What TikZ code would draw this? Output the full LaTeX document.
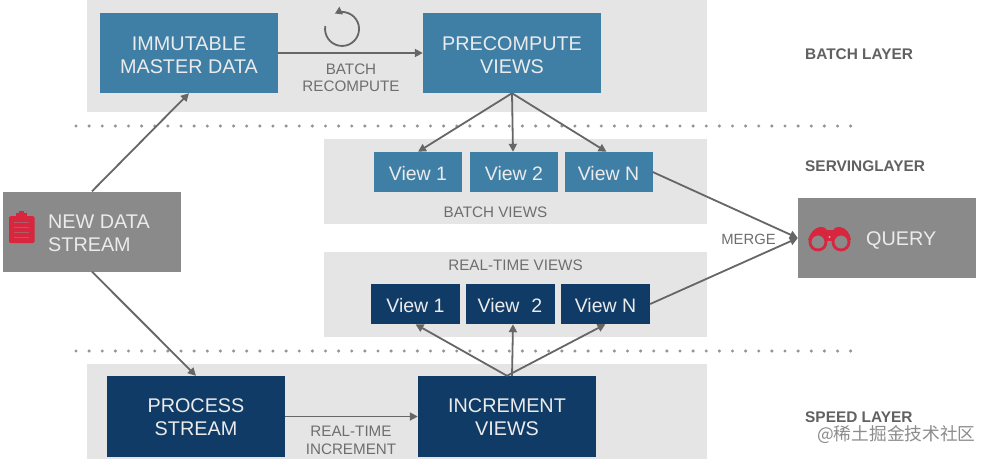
\documentclass[tikz,border=0pt]{standalone}
\usepackage{fontspec}
\setmainfont{Liberation Sans}
\newfontfamily\cjk{Noto Sans CJK SC}
\usetikzlibrary{arrows.meta}
\definecolor{panelc}{HTML}{E5E5E5}
\definecolor{tealc}{HTML}{3F7FA6}
\definecolor{navyc}{HTML}{0F3B66}
\definecolor{greyc}{HTML}{8A8A8A}
\definecolor{linec}{HTML}{666666}
\definecolor{labelc}{HTML}{6E6E6E}
\definecolor{iconred}{HTML}{D7263D}
\tikzset{
 x=1pt,y=-1pt,
 panel/.style={fill=panelc,draw=none},
 tealbox/.style={fill=tealc,minimum width=178pt,minimum height=80pt,inner sep=0pt},
 navybox/.style={fill=navyc,minimum width=178pt,minimum height=81pt,inner sep=0pt},
 greybox/.style={fill=greyc,minimum width=178pt,minimum height=80pt,inner sep=0pt},
 boxtext/.style={text=white!92!black,font=\fontsize{19.8}{23}\selectfont,align=center,inner sep=0pt},
 leftboxtext/.style={boxtext,align=left,anchor=west},
 tview/.style={fill=tealc,minimum width=88pt,minimum height=40pt,inner sep=0pt},
 nview/.style={fill=navyc,minimum width=89pt,minimum height=40pt,inner sep=0pt},
 viewtext/.style={text=white!92!black,font=\fontsize{19.5}{22}\selectfont,inner sep=0pt},
 conn/.style={draw=linec,line width=1.8pt,-{Triangle[length=8pt,width=8pt]}},
 lab/.style={text=labelc,font=\fontsize{15.2}{17.5}\selectfont,align=center,inner sep=0pt},
 layer/.style={text=black!62,font=\bfseries\fontsize{15.4}{18}\selectfont,inner sep=0pt,anchor=west},
 dots/.style={draw=black!42,line width=3.4pt,line cap=round,dash pattern=on 0pt off 13.13pt},
}
\begin{document}
\begin{tikzpicture}
\useasboundingbox[fill=white] (0,0) rectangle (992,459);
\fill[panel] (87,0) rectangle (707,112);
\fill[panel] (324,139) rectangle (707,224);
\fill[panel] (324,252) rectangle (707,337);
\fill[panel] (87,364) rectangle (707,459);
% dotted separators
\coordinate (d1a) at (76,126); \coordinate (d1b) at (855,126);
\coordinate (d2a) at (76,351); \coordinate (d2b) at (855,351);
\draw[dots] (d1a) -- (d1b);
\draw[dots] (d2a) -- (d2b);
% boxes
\node[tealbox] (master) at (189,53) {};
\node[tealbox] (pre) at (512,53) {};
\node[tview] (v1) at (418,172) {};
\node[tview] (v2) at (514,172) {};
\node[tview] (vn) at (608.5,172) {};
\node[nview] (r1) at (415.5,304) {};
\node[nview] (r2) at (510,304) {};
\node[nview] (rn) at (605.5,304) {};
\node[navybox] (proc) at (196,416.5) {};
\node[navybox] (inc) at (507,416.5) {};
\node[greybox] (new) at (92,231.5) {};
\node[greybox] (q) at (887,238) {};
% box texts
\node[boxtext] (mastert) at ([yshift=-2pt]master.center) {IMMUTABLE\\MASTER DATA};
\node[boxtext] (pret) at ([yshift=-2pt]pre.center) {PRECOMPUTE\\VIEWS};
\node[boxtext] (proct) at ([yshift=-1pt]proc.center) {PROCESS\\STREAM};
\node[boxtext] (inct) at ([yshift=-1pt]inc.center) {INCREMENT\\VIEWS};
\node[leftboxtext] (newt) at (48,233) {NEW DATA\\STREAM};
\node[leftboxtext] (qt) at (866,240) {QUERY};
\node[viewtext] (v1t) at ([yshift=-1.5pt]v1.center) {View 1};
\node[viewtext] (v2t) at ([yshift=-1.5pt]v2.center) {View 2};
\node[viewtext] (vnt) at ([yshift=-1.5pt]vn.center) {View N};
\node[viewtext] (r1t) at ([yshift=-1.5pt]r1.center) {View 1};
\node[viewtext] (r2t) at ([yshift=-1.5pt]r2.center) {View\,\, 2};
\node[viewtext] (rnt) at ([yshift=-1.5pt]rn.center) {View N};
% clipboard icon
\fill[iconred,rounded corners=1.5pt] (9,216) rectangle (34.5,243);
\fill[iconred] (16,213) rectangle (27,218);
\fill[iconred] (19,211) rectangle (24,214);
\draw[greyc!55!iconred,line width=.7pt] (14,222)--(29,222) (14,227)--(29,227) (14,232)--(29,232) (14,237)--(29,237);
% binoculars icon
\fill[iconred] (808,240) .. controls (810,233) and (814,228) .. (820,227) .. controls (824,227) and (826,228) .. (827,230) -- (833,230) .. controls (834,228) and (836,227) .. (840,227) .. controls (846,228) and (850,233) .. (851,240) -- (830,241) -- cycle;
\draw[iconred,line width=2.8pt,fill=greyc] (818,242) circle (8) (841,242) circle (8);
\fill[greyc!60!white] (829.5,237) circle (1.2);
% recompute loop
\draw[linec,line width=1.8pt,-{Triangle[length=7pt,width=8pt]}] (325.3,26) arc[start angle=190,end angle=-115,radius=17];
% connectors
\draw[conn] (master) -- (pre);
\draw[conn] (proc) -- (inc);
\draw[conn] (new.north) -- (master.south);
\draw[conn] (new.south) -- (proc.north);
\draw[conn] (pre.south) -- (v1.north);
\draw[conn] (pre.south) -- ([xshift=-1pt]v2.north);
\draw[conn] (pre.south) -- ([xshift=-2pt]vn.north);
\draw[conn] (inc.north) -- (r1.south);
\draw[conn] ([xshift=5pt]inc.north) -- ([xshift=3pt]r2.south);
\draw[conn] (inc.north) -- (rn.south);
\draw[conn] (vn.east) -- (q.west);
\draw[conn] (rn.east) -- (q.west);
% labels
\node[lab] (l1) at (351,78) {BATCH\\RECOMPUTE};
\node[lab] (l2) at (351,440.5) {REAL-TIME\\INCREMENT};
\node[lab] (l3) at (495.5,212.5) {BATCH VIEWS};
\node[lab] (l4) at (515.5,265.5) {REAL-TIME VIEWS};
\node[lab,font=\fontsize{14.8}{16}\selectfont] (l5) at (748.5,239.5) {MERGE};
\node[layer] (b1) at (805,54) {BATCH LAYER};
\node[layer] (b2) at (805,166) {SERVINGLAYER};
\node[layer] (b3) at (805,417.5) {SPEED LAYER};
\node[text=black!45,font=\cjk\fontsize{17.7}{20}\selectfont,inner sep=0pt,anchor=west] (wm) at (817,434.5) {@稀土掘金技术社区};
\end{tikzpicture}
\end{document}
